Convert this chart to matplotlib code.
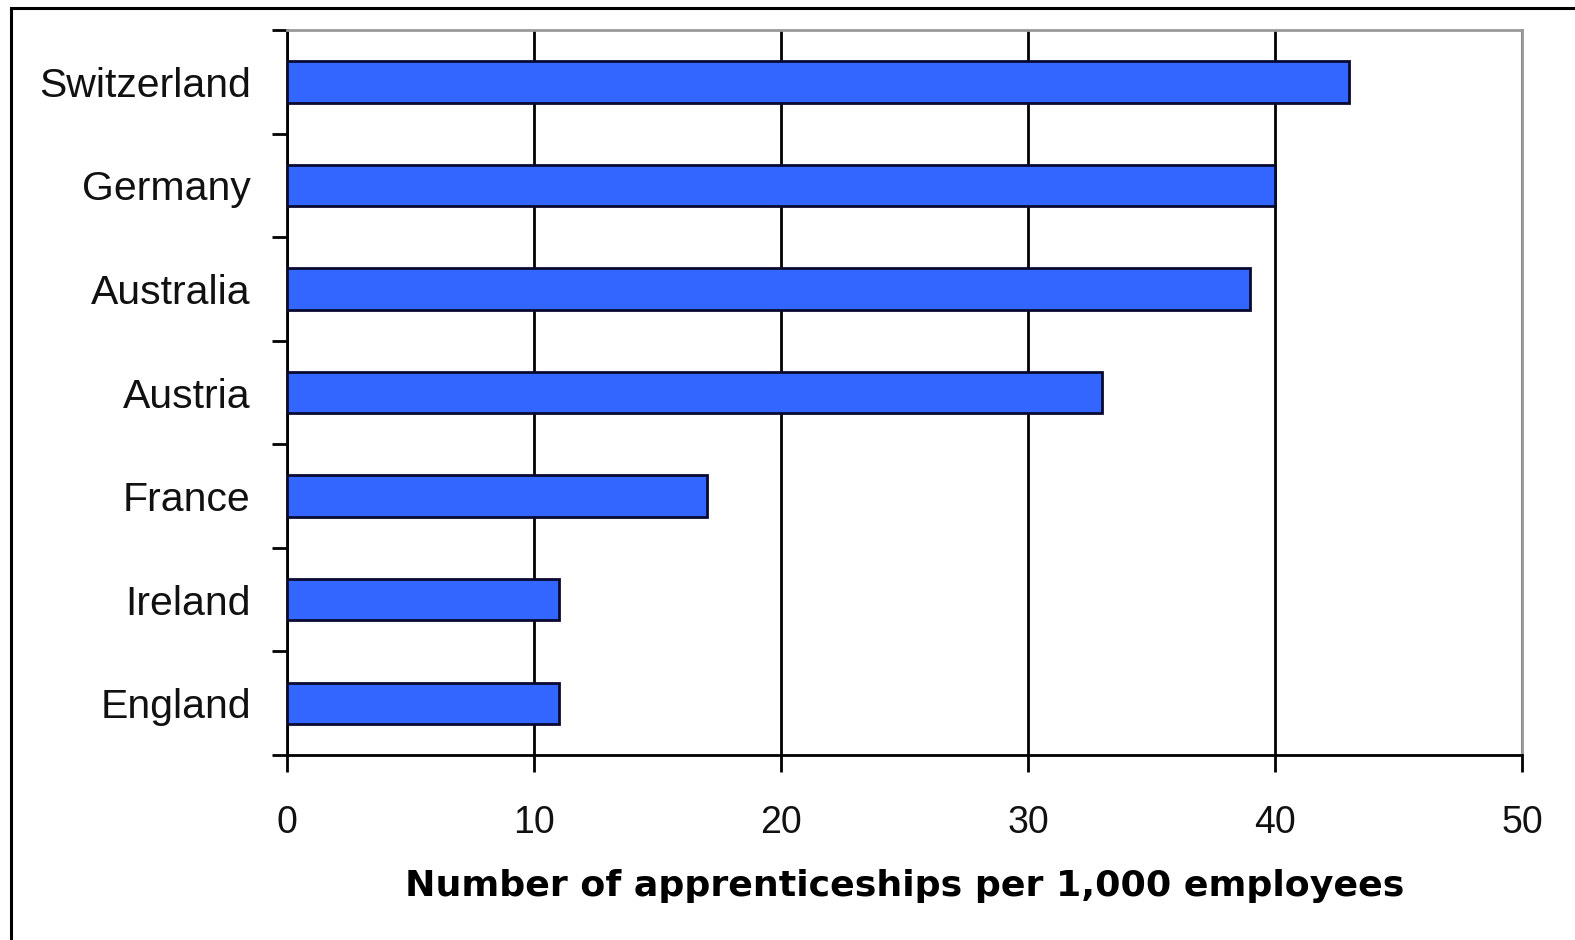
import numpy as np
import matplotlib.pyplot as plt
from matplotlib.patches import Rectangle

countries = ["Switzerland", "Germany", "Australia", "Austria", "France", "Ireland", "England"]
rates = [43, 40, 39, 33, 17, 11, 11]
xticks = [0, 10, 20, 30, 40, 50]
xlabel = "Number of apprenticeships per 1,000 employees"

plt.rcParams['font.family'] = ['Liberation Sans', 'DejaVu Sans']

fig = plt.figure(figsize=(15.75, 9.4), dpi=100)
ax = fig.add_axes([0.1822, 0.1968, 0.9663 - 0.1822, 0.968 - 0.1968])

# outer frame, only left and top edges visible in the crop
fig.patches.append(Rectangle((0.007, -0.05), 1.2, 1.042, transform=fig.transFigure,
                             fill=False, edgecolor='black', linewidth=2.2))

y = np.arange(len(countries))
ax.barh(y, rates, height=0.4, color='#3366ff', edgecolor='#0a0a30', linewidth=2, zorder=3)

ax.set_xlim(0, 50)
ax.set_ylim(len(countries) - 0.5, -0.5)
ax.set_xticks(xticks)
ax.set_xticklabels([str(t) for t in xticks])
ax.set_yticks(y)
ax.set_yticklabels(countries)
ax.set_yticks(np.arange(-0.5, len(countries), 1), minor=True)

ax.tick_params(axis='y', which='major', length=0, pad=26, labelsize=29.5, labelcolor='#111111')
ax.tick_params(axis='y', which='minor', length=11, width=2, color='black')
ax.tick_params(axis='x', length=12, width=2, pad=24, labelsize=27, labelcolor='#111111')

ax.grid(axis='x', color='black', linewidth=2, zorder=1)
ax.set_axisbelow(True)

for s in ['left', 'bottom']:
    ax.spines[s].set_color('black')
    ax.spines[s].set_linewidth(2)
for s in ['top', 'right']:
    ax.spines[s].set_color('#999999')
    ax.spines[s].set_linewidth(2)

ax.set_xlabel(xlabel, fontsize=26.2, fontweight='bold', labelpad=20, color='black',
              family='DejaVu Sans')

fig.savefig("out.png", dpi=100)
